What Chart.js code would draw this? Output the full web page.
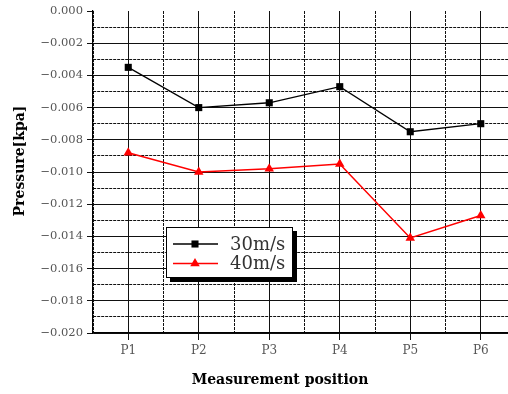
<!DOCTYPE html>
<html>
<head>
<meta charset="utf-8">
<script src="https://cdn.jsdelivr.net/npm/chart.js@4/dist/chart.umd.min.js"></script>
<style>
  html, body { margin: 0; padding: 0; background: #fff; overflow: hidden; }
  #wrap { width: 540px; height: 394px; }
</style>
</head>
<body>
<div id="wrap"><canvas id="myChart" width="540" height="394"></canvas></div>
<script>
var positions = ['P1', 'P2', 'P3', 'P4', 'P5', 'P6'];
var speed30 = [-0.0035, -0.0060, -0.0057, -0.0047, -0.0075, -0.0070];
var speed40 = [-0.0088, -0.0100, -0.0098, -0.0095, -0.0141, -0.0127];
var seriesNames = ['30m/s', '40m/s'];

function toPoints(values) {
    return values.map(function(v, i) { return { x: i + 1, y: v }; });
}

function isWhole(v, step) {
    return Math.abs(v / step - Math.round(v / step)) < 1e-6;
}

// boxed legend with a drop shadow, sitting inside the plot
var boxLegend = {
    id: 'boxLegend',
    afterDatasetsDraw: function(chart) {
        var ctx = chart.ctx;
        var area = chart.chartArea;
        var x = area.left + 73, y = area.top + 216, w = 127, h = 51;
        ctx.save();
        ctx.fillStyle = '#000';
        ctx.fillRect(x + 4, y + 4, w, h);
        ctx.fillStyle = '#fff';
        ctx.fillRect(x, y, w, h);
        ctx.strokeStyle = '#000';
        ctx.lineWidth = 1;
        ctx.strokeRect(x + 0.5, y + 0.5, w - 1, h - 1);

        chart.data.datasets.forEach(function(ds, i) {
            var rowY = y + 17 + i * 19.5;
            ctx.strokeStyle = ds.borderColor;
            ctx.lineWidth = ds.borderWidth;
            ctx.beginPath();
            ctx.moveTo(x + 7, rowY);
            ctx.lineTo(x + 52, rowY);
            ctx.stroke();
            ctx.fillStyle = ds.pointBackgroundColor;
            ctx.strokeStyle = ds.pointBorderColor;
            Chart.helpers.drawPoint(ctx, {
                pointStyle: ds.pointStyle,
                radius: ds.pointRadius,
                rotation: 0,
                borderWidth: 0
            }, x + 29, rowY);
            ctx.fillStyle = '#333';
            ctx.font = '18px "DejaVu Serif"';
            ctx.textBaseline = 'middle';
            ctx.textAlign = 'left';
            ctx.fillText(ds.label, x + 64, rowY + 1);
        });
        ctx.restore();
    }
};

// axis titles
var axisTitles = {
    id: 'axisTitles',
    afterDraw: function(chart) {
        var ctx = chart.ctx;
        var area = chart.chartArea;
        ctx.save();
        ctx.fillStyle = '#000';
        ctx.font = 'bold 14px "DejaVu Serif"';
        ctx.textAlign = 'center';
        ctx.textBaseline = 'middle';
        ctx.fillText('Measurement position', area.left + 187, area.bottom + 47);
        ctx.translate(20, area.top + 150);
        ctx.rotate(-Math.PI / 2);
        ctx.fillText('Pressure[kpa]', 0, 0);
        ctx.restore();
    }
};

var ctx = document.getElementById('myChart').getContext('2d');
var chart = new Chart(ctx, {
    type: 'line',
    data: {
        datasets: [{
            label: seriesNames[0],
            data: toPoints(speed30),
            borderColor: '#000',
            backgroundColor: '#000',
            borderWidth: 1.3,
            pointStyle: 'rect',
            pointRadius: 5,
            pointBackgroundColor: '#000',
            pointBorderColor: '#000',
            pointBorderWidth: 0
        }, {
            label: seriesNames[1],
            data: toPoints(speed40),
            borderColor: '#ff0000',
            backgroundColor: '#ff0000',
            borderWidth: 1.5,
            pointStyle: 'triangle',
            pointRadius: 5.5,
            pointBackgroundColor: '#ff0000',
            pointBorderColor: '#ff0000',
            pointBorderWidth: 0
        }]
    },
    options: {
        responsive: false,
        animation: false,
        layout: { padding: { top: 11, right: 24, left: 0, bottom: 0 } },
        plugins: {
            legend: { display: false },
            tooltip: { enabled: false }
        },
        scales: {
            x: {
                type: 'linear',
                min: 0.5,
                max: 6.5,
                afterFit: function(scale) { scale.height = 61; },
                afterBuildTicks: function(scale) {
                    var t = [];
                    for (var v = 0.5; v <= 6.5 + 1e-9; v += 0.5) t.push({ value: v });
                    scale.ticks = t;
                },
                ticks: {
                    autoSkip: false,
                    maxRotation: 0,
                    padding: 4,
                    color: '#555',
                    font: { family: 'DejaVu Serif', size: 12 },
                    callback: function(v) {
                        return isWhole(v, 1) ? positions[Math.round(v) - 1] : '';
                    }
                },
                grid: {
                    color: '#111',
                    lineWidth: 1,
                    tickLength: 7,
                    tickColor: function(c) {
                        return isWhole(c.tick.value, 1) ? '#111' : 'rgba(0,0,0,0)';
                    }
                },
                border: {
                    display: true,
                    color: '#000',
                    width: 1.2,
                    dash: function(c) {
                        return c.tick && !isWhole(c.tick.value, 1) ? [3, 1] : [];
                    }
                }
            },
            y: {
                min: -0.020,
                max: 0,
                afterFit: function(scale) { scale.width = 93; },
                afterBuildTicks: function(scale) {
                    var t = [];
                    for (var k = 0; k <= 20; k++) t.push({ value: -k / 1000 });
                    scale.ticks = t;
                },
                ticks: {
                    autoSkip: false,
                    padding: 4,
                    color: '#555',
                    font: { family: 'DejaVu Serif', size: 11.5 },
                    callback: function(v) {
                        if (!isWhole(v, 0.002)) return '';
                        var s = Math.abs(v).toFixed(3);
                        return Math.abs(v) < 1e-9 ? s : '\u2212' + s;
                    }
                },
                grid: {
                    color: function(c) {
                        return Math.abs(c.tick.value) < 1e-9 ? 'rgba(0,0,0,0)' : '#111';
                    },
                    lineWidth: 1,
                    tickLength: 6,
                    tickColor: function(c) {
                        return isWhole(c.tick.value, 0.002) ? '#111' : 'rgba(0,0,0,0)';
                    }
                },
                border: {
                    display: true,
                    color: '#000',
                    width: 1.2,
                    dash: function(c) {
                        return c.tick && !isWhole(c.tick.value, 0.002) ? [3, 1] : [];
                    }
                }
            }
        }
    },
    plugins: [boxLegend, axisTitles]
});
</script>
</body>
</html>
